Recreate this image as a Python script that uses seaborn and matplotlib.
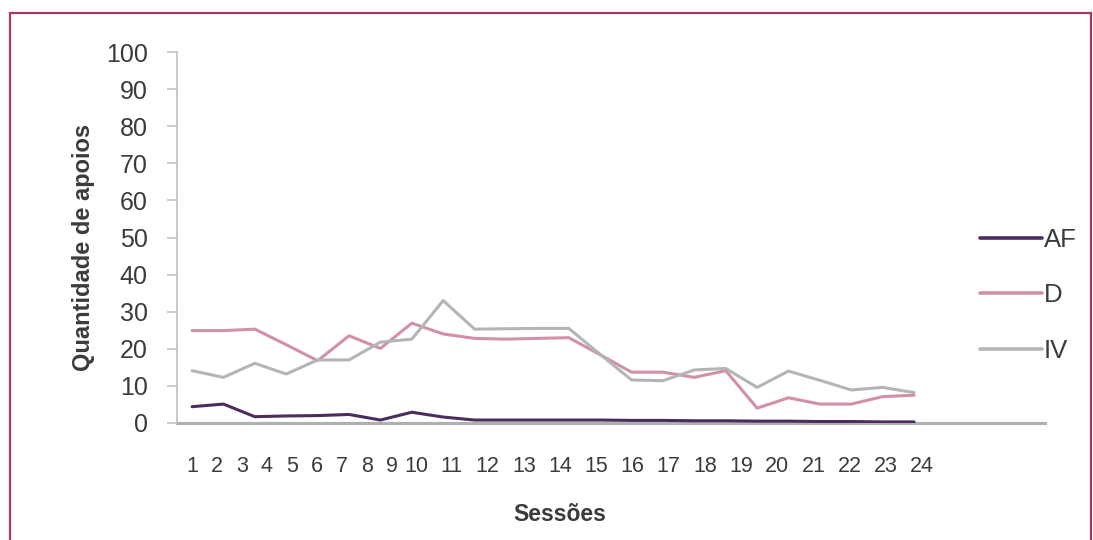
import numpy as np
import pandas as pd
import matplotlib
matplotlib.use("Agg")
import matplotlib.pyplot as plt
from matplotlib.patches import Rectangle
import seaborn as sns

# Sessions and support counts per category
sessions = list(range(1, 25))
af = [4.4, 5.1, 1.7, 1.9, 2.0, 2.3, 0.8, 2.9, 1.6, 0.8, 0.8, 0.8,
      0.8, 0.8, 0.7, 0.7, 0.6, 0.6, 0.5, 0.5, 0.4, 0.4, 0.3, 0.3]
d = [24.9, 24.9, 25.3, 21.1, 16.8, 23.5, 20.1, 26.9, 24.0, 22.8, 22.6, 22.8,
     23.0, 18.4, 13.7, 13.7, 12.3, 14.1, 4.0, 6.8, 5.1, 5.1, 7.1, 7.5]
iv = [14.1, 12.3, 16.1, 13.2, 17.0, 17.0, 21.8, 22.6, 33.0, 25.3, 25.4, 25.5,
      25.5, 18.5, 11.6, 11.4, 14.3, 14.7, 9.6, 14.0, 11.5, 8.9, 9.6, 8.2]
series_names = ["AF", "D", "IV"]
tick_labels = [str(s) for s in sessions]
y_ticks = list(range(0, 101, 10))

colors = {"AF": "#4a2d5c", "D": "#d28fa9", "IV": "#b3b6b5"}

df = pd.DataFrame({
    "Sessão": sessions * 3,
    "Apoios": af + d + iv,
    "Série": ["AF"] * 24 + ["D"] * 24 + ["IV"] * 24,
})

sns.set_theme(style="white")
plt.rcParams["font.family"] = ["Liberation Sans", "DejaVu Sans"]
text_color = "#3b3b3b"

fig = plt.figure(figsize=(10.93, 5.40), dpi=100)
ax = fig.add_axes([177 / 1093, 1 - 423 / 540, 868 / 1093, 371 / 540])

sns.lineplot(data=df, x="Sessão", y="Apoios", hue="Série",
             hue_order=series_names, palette=colors, linewidth=2.2,
             ax=ax, legend=True)

ax.set_ylim(0, 100)
ax.set_xlim(0.52, 28.17)
ax.set_yticks(y_ticks)
ax.set_yticklabels([str(v) for v in y_ticks], fontsize=18, color=text_color)

# category labels are spread in two groups along the axis
label_pos = np.concatenate([np.linspace(1.0, 8.15, 10), np.linspace(9.26, 24.26, 14)])
ax.set_xticks(label_pos)
ax.set_xticklabels(tick_labels, fontsize=15.5, color=text_color)

ax.tick_params(axis="y", length=7, width=1.1, color="#bfbfbf", pad=14, left=True)
ax.tick_params(axis="x", length=0, pad=24)

for side in ["top", "right"]:
    ax.spines[side].set_visible(False)
ax.spines["left"].set_color("#c0c0c0")
ax.spines["left"].set_linewidth(1.2)
ax.spines["bottom"].set_color("#aeb1b0")
ax.spines["bottom"].set_linewidth(2.3)
ax.spines["bottom"].set_zorder(1)

ax.set_xlabel("Sessões", fontsize=16.5, fontweight="bold", color=text_color)
ax.xaxis.set_label_coords(0.441, -0.215)
ax.set_ylabel("Quantidade de apoios", fontsize=17, fontweight="bold", color=text_color)
ax.yaxis.set_label_coords(-0.094, 0.474)

leg = ax.legend(loc="upper left", bbox_to_anchor=(980 / 1093, 1 - 228 / 540),
                bbox_transform=fig.transFigure, frameon=False, fontsize=18.5,
                handlelength=2.4, handletextpad=0.08, labelspacing=1.22,
                borderpad=0, borderaxespad=0)
for t in leg.get_texts():
    t.set_color(text_color)
for h in leg.get_lines():
    h.set_linewidth(2.6)

# frame around the figure
fig.patches.append(Rectangle((10 / 1093, -0.05), 1081 / 1093, 1.05 - 13 / 540,
                             transform=fig.transFigure, fill=False,
                             edgecolor="#a8385f", linewidth=1.6))

fig.savefig("out.png", dpi=100)
